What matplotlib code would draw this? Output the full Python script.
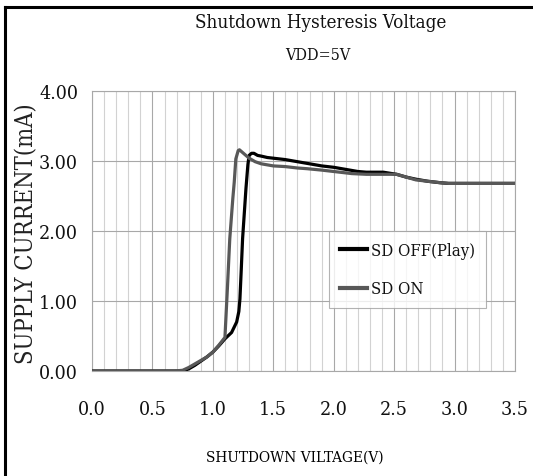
import matplotlib
matplotlib.use("Agg")
import matplotlib.pyplot as plt
from matplotlib.lines import Line2D
from matplotlib.ticker import MultipleLocator, FormatStrFormatter

# ---- data ----
off_x = [0.00, 0.70, 0.75, 0.80, 0.85, 0.90, 0.95, 1.00, 1.05, 1.10, 1.155, 1.197, 1.215,
         1.224, 1.235, 1.246, 1.26, 1.274, 1.29, 1.30, 1.32, 1.34, 1.37, 1.40, 1.45, 1.50,
         1.60, 1.70, 1.80, 1.90, 2.00, 2.10, 2.20, 2.27, 2.41, 2.52, 2.60, 2.68, 2.78,
         2.88, 2.95, 3.50]
off_y = [0.00, 0.00, 0.00, 0.03, 0.08, 0.14, 0.20, 0.27, 0.36, 0.46, 0.55, 0.70, 0.85,
         1.03, 1.45, 1.89, 2.25, 2.61, 2.95, 3.08, 3.11, 3.11, 3.08, 3.07, 3.05, 3.04,
         3.02, 2.99, 2.96, 2.93, 2.91, 2.88, 2.85, 2.84, 2.84, 2.81, 2.77, 2.74, 2.71,
         2.69, 2.68, 2.68]

on_x = [0.00, 0.68, 0.75, 0.80, 0.85, 0.90, 0.95, 1.00, 1.05, 1.10, 1.12, 1.14, 1.165,
        1.177, 1.19, 1.21, 1.22, 1.26, 1.30, 1.35, 1.40, 1.50, 1.60, 1.70, 1.78, 1.90,
        2.05, 2.15, 2.27, 2.40, 2.52, 2.60, 2.68, 2.78, 2.88, 2.95, 3.50]
on_y = [0.00, 0.00, 0.01, 0.05, 0.10, 0.15, 0.20, 0.27, 0.37, 0.48, 1.17, 1.89, 2.46,
        2.70, 3.03, 3.15, 3.16, 3.10, 3.04, 2.99, 2.96, 2.93, 2.92, 2.90, 2.89, 2.87,
        2.84, 2.82, 2.81, 2.81, 2.81, 2.77, 2.73, 2.71, 2.69, 2.68, 2.68]

series_labels = ["SD OFF(Play)", "SD ON"]
title_text = "Shutdown Hysteresis Voltage"
subtitle_text = "VDD=5V"
xlabel_text = "SHUTDOWN VILTAGE(V)"
ylabel_text = "SUPPLY CURRENT(mA)"

# ---- style ----
plt.rcParams['font.family'] = ['DejaVu Serif']
plt.rcParams['font.stretch'] = 'condensed'
plt.rcParams['text.color'] = '#111111'

fig = plt.figure(figsize=(5.33, 4.77), dpi=100)
L, R, B, T = 92 / 533, 515 / 533, 1 - 372 / 477, 1 - 92 / 477
ax = fig.add_axes([L, B, R - L, T - B])

ax.plot(off_x, off_y, color='#000000', lw=2.3, label=series_labels[0], zorder=3,
        solid_joinstyle='round')
ax.plot(on_x, on_y, color='#585858', lw=2.3, label=series_labels[1], zorder=4,
        solid_joinstyle='round')

ax.set_xlim(0, 3.5)
ax.set_ylim(0, 4.0)
ax.xaxis.set_major_locator(MultipleLocator(0.5))
ax.xaxis.set_minor_locator(MultipleLocator(0.1))
ax.yaxis.set_major_locator(MultipleLocator(1.0))
ax.xaxis.set_major_formatter(FormatStrFormatter('%.1f'))
ax.yaxis.set_major_formatter(FormatStrFormatter('%.2f'))

ax.grid(which='major', axis='both', color='#a8a8a8', lw=0.8)
ax.grid(which='minor', axis='x', color='#d2d2d2', lw=0.8)
ax.set_axisbelow(True)
for s in ax.spines.values():
    s.set_color('#a8a8a8')
    s.set_linewidth(0.8)

ax.tick_params(which='both', length=0)
ax.tick_params(axis='x', pad=21, labelsize=14, colors='#111111')
ax.tick_params(axis='y', pad=10, labelsize=14, colors='#111111')

ax.set_xlabel(xlabel_text, fontsize=11)
ax.xaxis.set_label_coords((295 - 92) / 423, (372 - 458) / 280)
ax.xaxis.label.set_va('center')
ax.set_ylabel(ylabel_text, fontsize=17, color='#222222')
ax.yaxis.set_label_coords((27 - 92) / 423, (372 - 234) / 280)
ax.yaxis.label.set_va('center')

leg = ax.legend(loc='upper left', bbox_to_anchor=((329 - 92) / 423, (372 - 232) / 280),
                borderaxespad=0, fontsize=12, frameon=True, fancybox=False,
                handlelength=1.6, handletextpad=0.25, borderpad=0.66, labelspacing=1.28)
leg.get_frame().set_edgecolor('#a0a0a0')
leg.get_frame().set_linewidth(0.8)
for h in leg.get_lines():
    h.set_linewidth(3)

fig.text(321 / 533, 1 - 23 / 477, title_text, ha='center', va='center', fontsize=13.5)
fig.text(318 / 533, 1 - 55 / 477, subtitle_text, ha='center', va='center', fontsize=11.5)

# figure frame (left and top)
fig.add_artist(Line2D([4.5 / 533, 4.5 / 533], [0, 1 - 8 / 477], transform=fig.transFigure,
                      color='black', lw=2.2, solid_capstyle='projecting'))
fig.add_artist(Line2D([4.5 / 533, 1], [1 - 8 / 477, 1 - 8 / 477], transform=fig.transFigure,
                      color='black', lw=2.2, solid_capstyle='projecting'))

fig.savefig("out.png", dpi=100)
